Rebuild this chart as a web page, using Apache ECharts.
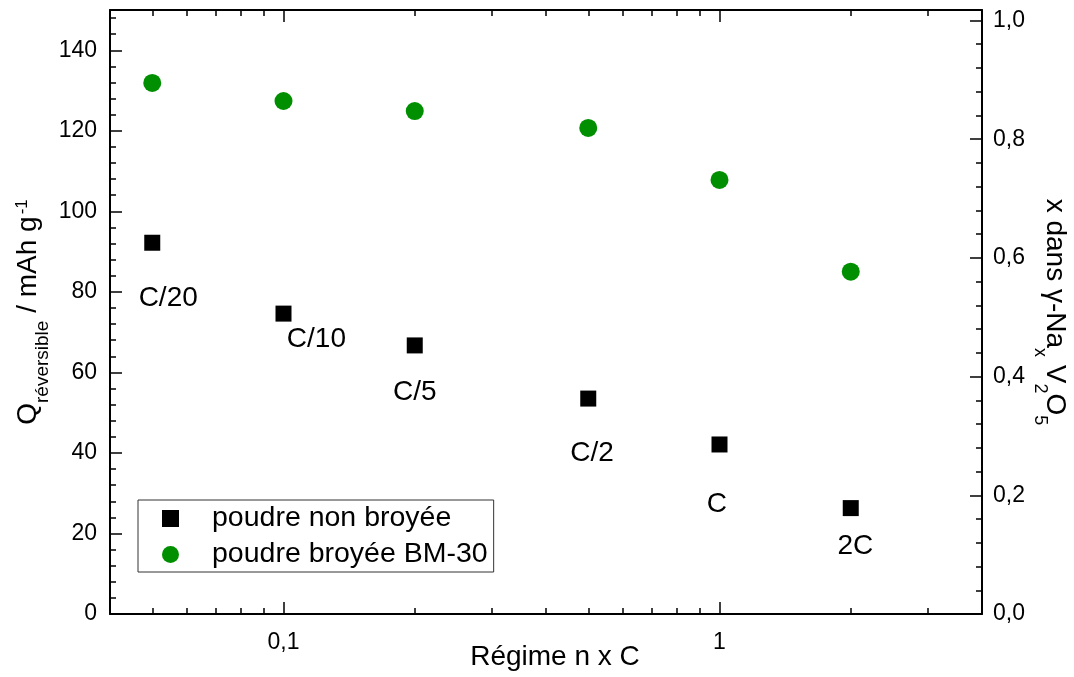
<!DOCTYPE html>
<html>
<head>
<meta charset="utf-8">
<script src="https://cdn.jsdelivr.net/npm/echarts@6/dist/echarts.min.js"></script>
<style>
html,body{margin:0;padding:0;background:#fff;}
#chart{width:1074px;height:677px;}
</style>
</head>
<body>
<div id="chart"></div>
<script>
// ---- data ----
const rates = [0.05, 0.1, 0.2, 0.5, 1, 2];
const capNonBroyee = [92.2, 74.6, 66.7, 53.5, 42.1, 26.3];
const capBroyee = [131.9, 127.4, 124.9, 120.7, 107.8, 85.0];
const rateLabels = ['C/20', 'C/10', 'C/5', 'C/2', 'C', '2C'];
// label anchor positions (data coordinates)
const labelX = [0.0544, 0.119, 0.200, 0.510, 0.986, 2.05];
const labelY = [78.6, 68.4, 55.3, 40.2, 27.4, 17.1];
const seriesNames = ['poudre non broyée', 'poudre broyée BM-30'];
// axis ticks
const xMajorTicks = [0.1, 1];
const xMinorTicks = [0.05, 0.06, 0.07, 0.08, 0.09, 0.2, 0.3, 0.4, 0.5, 0.6, 0.7, 0.8, 0.9, 2, 3, 4];
const yLeftMinor = [4, 8, 12, 16, 24, 28, 32, 36, 44, 48, 52, 56, 64, 68, 72, 76, 84, 88, 92, 96, 104, 108, 112, 116, 124, 128, 132, 136, 144, 148];
const yRightMinor = [0.04, 0.08, 0.12, 0.16, 0.24, 0.28, 0.32, 0.36, 0.44, 0.48, 0.52, 0.56, 0.64, 0.68, 0.72, 0.76, 0.84, 0.88, 0.92, 0.96];
const mAhPerNa = 147.4; // capacity of one Na per formula unit

const FONT = 'Liberation Sans, Arial, sans-serif';
const BLACK = '#000';
const GREEN = '#008f00';

const chart = echarts.init(document.getElementById('chart'), null, {renderer: 'canvas'});

const commaFmt1 = v => String(v).replace('.', ',');
const lineStyle = {color: BLACK, width: 2};

function xAxisDef(pos, ticks, len, showLabel, showLine) {
  return {
    type: 'log', logBase: 10, min: 0.04, max: 4, position: pos, gridIndex: 0,
    axisLine: {show: showLine, onZero: false, lineStyle: lineStyle},
    axisTick: {show: true, inside: true, length: len, customValues: ticks, lineStyle: {color: BLACK, width: 1.5}},
    minorTick: {show: false},
    axisLabel: showLabel ? {show: true, customValues: xMajorTicks, formatter: commaFmt1, color: BLACK, fontSize: 23, fontFamily: FONT, margin: 17} : {show: false},
    splitLine: {show: false}
  };
}

const option = {
  backgroundColor: '#fff',
  animation: false,
  grid: {left: 110, right: 92, top: 10, bottom: 63, containLabel: false, outerBoundsMode: 'none'},
  xAxis: [
    Object.assign(xAxisDef('bottom', xMajorTicks, 12, true, true), {
      name: 'Régime n x C', nameLocation: 'middle', nameGap: 29, nameMoveOverlap: false,
      nameTextStyle: {color: BLACK, fontSize: 28, fontFamily: FONT, padding: [0, 0, 0, 18]}
    }),
    xAxisDef('bottom', xMinorTicks, 6, false, false),
    xAxisDef('top', xMajorTicks, 12, false, true),
    xAxisDef('top', xMinorTicks, 6, false, false)
  ],
  yAxis: [
    {
      type: 'value', min: 0, max: 150, interval: 20, position: 'left',
      axisLine: {show: true, lineStyle: lineStyle},
      axisTick: {show: true, inside: true, length: 12, lineStyle: {color: BLACK, width: 1.5}},
      axisLabel: {color: BLACK, fontSize: 23, fontFamily: FONT, margin: 13, showMaxLabel: false},
      splitLine: {show: false},
      name: '{q|Q}{sub|réversible}{q| / mAh g}{sup|-1}',
      nameLocation: 'middle', nameRotate: 90, nameGap: 58, nameMoveOverlap: false,
      nameTextStyle: {
        color: BLACK, fontFamily: FONT,
        rich: {
          q: {fontSize: 28, fontFamily: FONT, color: BLACK, verticalAlign: 'bottom', padding: [0, 0, 10, 0]},
          sub: {fontSize: 19, fontFamily: FONT, color: BLACK, verticalAlign: 'bottom', padding: [0, 0, 0, 0]},
          sup: {fontSize: 17, fontFamily: FONT, color: BLACK, verticalAlign: 'top', padding: [0, 0, 0, 2]}
        }
      }
    },
    {
      type: 'value', min: 0, max: 150 / mAhPerNa, interval: 0.2, position: 'right',
      axisLine: {show: true, lineStyle: lineStyle},
      axisTick: {show: true, inside: true, length: 12, lineStyle: {color: BLACK, width: 1.5}},
      axisLabel: {color: BLACK, fontSize: 23, fontFamily: FONT, margin: 11, showMaxLabel: false,
        formatter: v => v.toFixed(1).replace('.', ',')},
      splitLine: {show: false},
      name: '{m|x dans γ-Na}{sub|x}{m| V}{sub|2}{m|O}{sub|5}',
      nameLocation: 'middle', nameRotate: -90, nameGap: 49, nameMoveOverlap: false,
      nameTextStyle: {
        color: BLACK, fontFamily: FONT,
        rich: {
          m: {fontSize: 28, fontFamily: FONT, color: BLACK, verticalAlign: 'bottom', padding: [0, 0, 10, 0]},
          sub: {fontSize: 18, fontFamily: FONT, color: BLACK, verticalAlign: 'bottom'}
        }
      }
    },
    {
      type: 'value', min: 0, max: 150, position: 'left',
      axisLine: {show: false},
      axisTick: {show: true, inside: true, length: 6, customValues: yLeftMinor, lineStyle: {color: BLACK, width: 1.5}},
      axisLabel: {show: false}, splitLine: {show: false}
    },
    {
      type: 'value', min: 0, max: 150 / mAhPerNa, position: 'right',
      axisLine: {show: false},
      axisTick: {show: true, inside: true, length: 6, customValues: yRightMinor, lineStyle: {color: BLACK, width: 1.5}},
      axisLabel: {show: false}, splitLine: {show: false}
    }
  ],
  legend: {
    data: seriesNames,
    orient: 'vertical',
    left: 138, top: 500,
    itemWidth: 17, itemHeight: 17, itemGap: 7,
    padding: [4, 6, 3, 24],
    borderColor: '#333', borderWidth: 1,
    backgroundColor: '#fff',
    selectedMode: false,
    textStyle: {color: BLACK, fontSize: 28.5, fontFamily: FONT, lineHeight: 28, padding: [0, 0, 0, 28]}
  },
  series: [
    {
      name: seriesNames[0], type: 'scatter', xAxisIndex: 0, yAxisIndex: 0,
      symbol: 'rect', symbolSize: 16, itemStyle: {color: BLACK, opacity: 1},
      data: rates.map((r, i) => [r, capNonBroyee[i]]), z: 3
    },
    {
      name: seriesNames[1], type: 'scatter', xAxisIndex: 0, yAxisIndex: 0,
      symbol: 'circle', symbolSize: 18, itemStyle: {color: GREEN, opacity: 1},
      data: rates.map((r, i) => [r, capBroyee[i]]), z: 3
    },
    {
      name: 'labels', type: 'scatter', xAxisIndex: 0, yAxisIndex: 0,
      symbolSize: 0, itemStyle: {color: BLACK, opacity: 1},
      label: {show: true, position: 'inside', offset: [0, 1], formatter: p => p.name, color: BLACK,
        opacity: 1, textBorderWidth: 0, fontSize: 28, fontFamily: FONT},
      emphasis: {disabled: true},
      silent: true,
      data: rateLabels.map((t, i) => ({name: t, value: [labelX[i], labelY[i]]}))
    }
  ]
};
chart.setOption(option);
</script>
</body>
</html>
